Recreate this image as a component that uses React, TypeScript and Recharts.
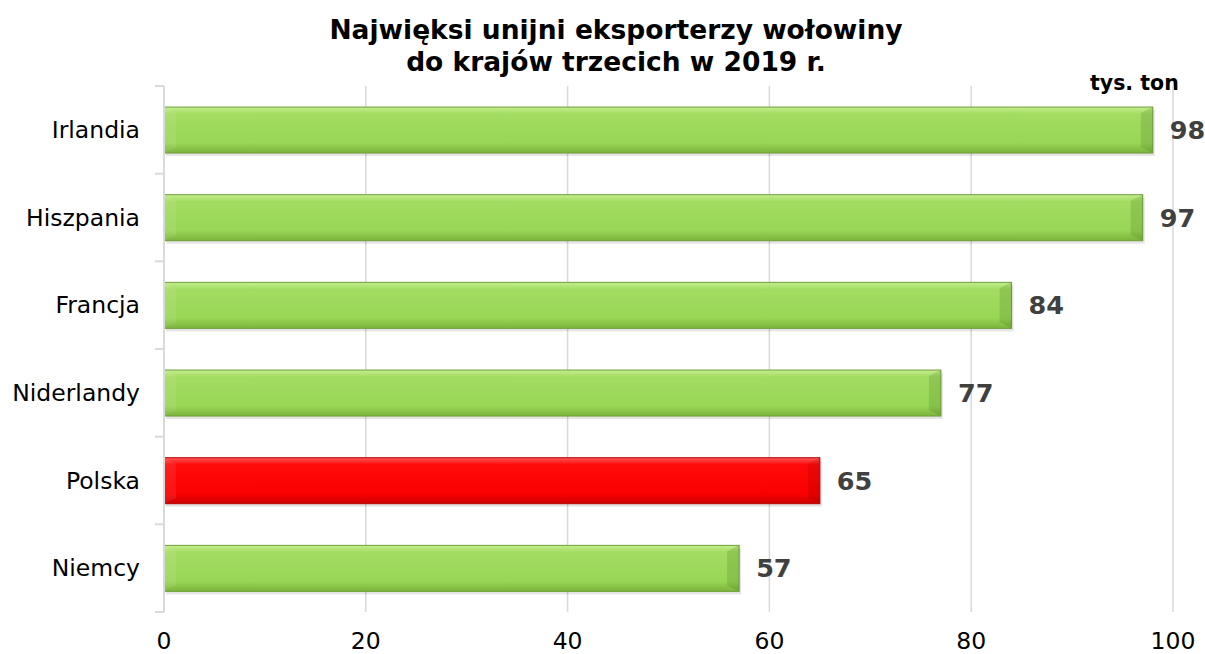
import { BarChart, Bar, XAxis, YAxis, CartesianGrid, Cell, LabelList } from 'recharts';

const countries = ['Irlandia', 'Hiszpania', 'Francja', 'Niderlandy', 'Polska', 'Niemcy'];
const exportValues = [98, 97, 84, 77, 65, 57];
const highlight = 'Polska';
const xTicks = [0, 20, 40, 60, 80, 100];

const chartData = countries.map((country, i) => ({ country, value: exportValues[i] }));

const FONT = '"DejaVu Sans", Verdana, sans-serif';
const W = 1205;
const H = 654;
const MARGIN = { top: 86, right: 32, left: 0, bottom: 0 };
const X_AXIS_H = 42;
const Y_TICK_MARGIN = 24;
const HALF_BAND = (H - MARGIN.top - X_AXIS_H) / countries.length / 2;

// category label plus the small tick marks that sit between categories
const CategoryTick = (props: any) => {
  const { x, y, payload, index } = props;
  const axisX = x + Y_TICK_MARGIN;
  const last = index === countries.length - 1;
  return (
    <g>
      <line x1={axisX - 9} x2={axisX} y1={y - HALF_BAND} y2={y - HALF_BAND} stroke="#d9d9d9" strokeWidth={2} />
      {last && (
        <line x1={axisX - 9} x2={axisX} y1={y + HALF_BAND} y2={y + HALF_BAND} stroke="#d9d9d9" strokeWidth={2} />
      )}
      <text x={x} y={y} dy="0.35em" textAnchor="end" fill="#000" fontSize={23.5} fontFamily={FONT}>
        {payload.value}
      </text>
    </g>
  );
};

const BevelBar = (props: any) => {
  const { x, y, width, height, payload } = props;
  if (!width || width <= 0) return null;
  const red = payload.country === highlight;
  const b = 6;
  return (
    <g>
      <rect x={x + 2} y={y + 3} width={width} height={height} fill="rgba(0,0,0,0.10)" />
      <rect x={x} y={y} width={width} height={height}
        fill={red ? 'url(#gRed)' : 'url(#gGreen)'}
        stroke={red ? '#b80000' : '#6f9e3a'} strokeWidth={1} />
      <polygon points={`${x + width},${y} ${x + width - b * 2},${y + b} ${x + width - b * 2},${y + height - b} ${x + width},${y + height}`}
        fill={red ? 'rgba(120,0,0,0.16)' : 'rgba(60,100,20,0.18)'} />
      <polygon points={`${x},${y} ${x + b * 2},${y + b} ${x + b * 2},${y + height - b} ${x},${y + height}`}
        fill="rgba(255,255,255,0.08)" />
    </g>
  );
};

export default function App() {
  return (
    <div style={{ position: 'absolute', left: 0, top: 0, width: W, height: H, background: '#fff', fontFamily: FONT }}>
      <div style={{ position: 'absolute', left: 0, width: 1232, top: 14, textAlign: 'center', fontWeight: 'bold', fontSize: 26.5, lineHeight: '32px', color: '#000' }}>
        Najwięksi unijni eksporterzy wołowiny<br />do krajów trzecich w 2019 r.
      </div>
      <div style={{ position: 'absolute', left: 1090, top: 71, fontWeight: 'bold', fontSize: 20.5, color: '#000' }}>
        tys. ton
      </div>
      <BarChart
        width={W}
        height={H}
        data={chartData}
        layout="vertical"
        margin={MARGIN}
        barCategoryGap="24%"
      >
        <defs>
          <linearGradient id="gGreen" x1="0" y1="0" x2="0" y2="1">
            <stop offset="0%" stopColor="#c4ee8e" />
            <stop offset="15%" stopColor="#a3dc62" />
            <stop offset="78%" stopColor="#98d656" />
            <stop offset="100%" stopColor="#7bb43c" />
          </linearGradient>
          <linearGradient id="gRed" x1="0" y1="0" x2="0" y2="1">
            <stop offset="0%" stopColor="#ff5a5a" />
            <stop offset="15%" stopColor="#ff0a0a" />
            <stop offset="78%" stopColor="#fb0000" />
            <stop offset="100%" stopColor="#cc0000" />
          </linearGradient>
        </defs>
        <CartesianGrid horizontal={false} stroke="#d9d9d9" strokeWidth={1.5} />
        <XAxis
          type="number"
          domain={[0, 100]}
          ticks={xTicks}
          axisLine={false}
          tickLine={false}
          tickSize={0}
          tickMargin={20}
          height={X_AXIS_H}
          tick={{ fill: '#000', fontSize: 23.5, fontFamily: FONT }}
        />
        <YAxis
          type="category"
          dataKey="country"
          width={164}
          axisLine={{ stroke: '#d9d9d9', strokeWidth: 2 }}
          tickLine={false}
          tickSize={0}
          tickMargin={Y_TICK_MARGIN}
          tick={<CategoryTick />}
        />
        <Bar dataKey="value" shape={BevelBar} isAnimationActive={false}>
          {chartData.map((d) => (
            <Cell key={d.country} fill={d.country === highlight ? '#ff0000' : '#9bd95a'} />
          ))}
          <LabelList dataKey="value" position="right" offset={17}
            style={{ fill: '#404040', fontSize: 25.5, fontWeight: 'bold', fontFamily: FONT }} />
        </Bar>
      </BarChart>
    </div>
  );
}
